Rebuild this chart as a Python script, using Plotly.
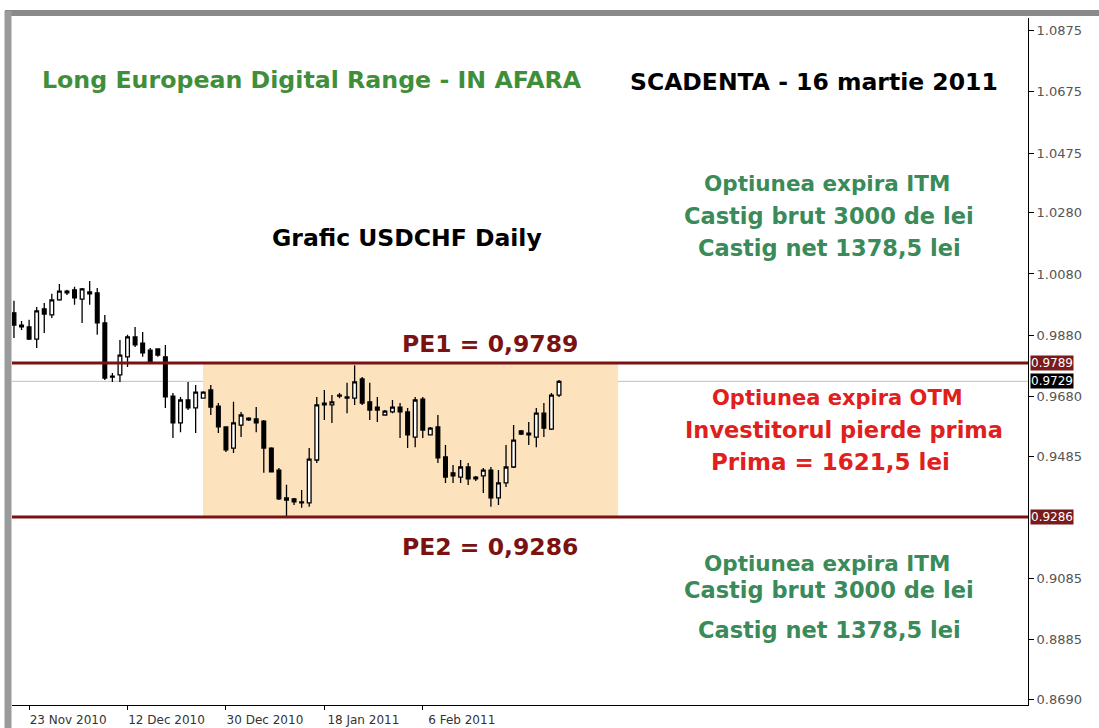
import plotly.graph_objects as go

# ---------------- data (USDCHF daily candles) ----------------
opens = [0.9953, 0.9913, 0.9907, 0.9867, 0.9966, 0.9946, 0.9995, 1.0024, 1.0028, 0.9998,
         1.0021, 1.0018, 0.9920, 0.9743, 0.9750, 0.9809, 0.9874, 0.9854, 0.9831, 0.9835,
         0.9809, 0.9681, 0.9593, 0.9668, 0.9642, 0.9674, 0.9701, 0.9648, 0.9580, 0.9511,
         0.9586, 0.9609, 0.9606, 0.9599, 0.9511, 0.9439, 0.9348, 0.9345, 0.9335, 0.9332,
         0.9472, 0.9652, 0.9652, 0.9681, 0.9674, 0.9674, 0.9737, 0.9662, 0.9645, 0.9619,
         0.9629, 0.9645, 0.9629, 0.9547, 0.9671, 0.9554, 0.9580, 0.9482, 0.9430, 0.9416,
         0.9449, 0.9416, 0.9420, 0.9439, 0.9348, 0.9397, 0.9449, 0.9567, 0.9560, 0.9547,
         0.9625, 0.9573, 0.9684]
highs = [0.9992, 0.9926, 0.9930, 0.9972, 0.9985, 1.0015, 1.0047, 1.0028, 1.0038, 1.0034,
         1.0057, 1.0034, 0.9946, 0.9756, 0.9864, 0.9881, 0.9907, 0.9890, 0.9838, 0.9835,
         0.9848, 0.9691, 0.9678, 0.9727, 0.9717, 0.9697, 0.9717, 0.9658, 0.9580, 0.9662,
         0.9629, 0.9612, 0.9645, 0.9603, 0.9514, 0.9446, 0.9391, 0.9348, 0.9374, 0.9511,
         0.9678, 0.9701, 0.9684, 0.9691, 0.9724, 0.9782, 0.9743, 0.9724, 0.9678, 0.9635,
         0.9668, 0.9658, 0.9642, 0.9678, 0.9678, 0.9580, 0.9619, 0.9521, 0.9456, 0.9472,
         0.9462, 0.9420, 0.9446, 0.9449, 0.9439, 0.9521, 0.9586, 0.9570, 0.9596, 0.9642,
         0.9658, 0.9691, 0.9733]
lows = [0.9871, 0.9897, 0.9864, 0.9838, 0.9887, 0.9936, 0.9992, 1.0011, 0.9979, 0.9920,
        0.9979, 0.9881, 0.9733, 0.9727, 0.9727, 0.9776, 0.9841, 0.9809, 0.9792, 0.9809,
        0.9642, 0.9544, 0.9563, 0.9635, 0.9560, 0.9674, 0.9619, 0.9560, 0.9498, 0.9495,
        0.9547, 0.9599, 0.9563, 0.9430, 0.9433, 0.9341, 0.9286, 0.9325, 0.9316, 0.9319,
        0.9462, 0.9603, 0.9593, 0.9674, 0.9625, 0.9652, 0.9652, 0.9603, 0.9596, 0.9619,
        0.9625, 0.9544, 0.9511, 0.9514, 0.9544, 0.9554, 0.9462, 0.9397, 0.9397, 0.9397,
        0.9390, 0.9403, 0.9364, 0.9319, 0.9325, 0.9384, 0.9446, 0.9554, 0.9521, 0.9514,
        0.9547, 0.9570, 0.9678]
closes = [0.9913, 0.9907, 0.9867, 0.9959, 0.9949, 0.9995, 1.0024, 1.0018, 1.0002, 1.0031,
          1.0015, 0.9920, 0.9740, 0.9746, 0.9815, 0.9874, 0.9848, 0.9822, 0.9792, 0.9815,
          0.9678, 0.9593, 0.9668, 0.9642, 0.9694, 0.9694, 0.9645, 0.9580, 0.9505, 0.9593,
          0.9619, 0.9603, 0.9593, 0.9511, 0.9433, 0.9345, 0.9341, 0.9335, 0.9332, 0.9475,
          0.9652, 0.9658, 0.9662, 0.9684, 0.9678, 0.9727, 0.9658, 0.9635, 0.9635, 0.9632,
          0.9645, 0.9629, 0.9554, 0.9668, 0.9570, 0.9576, 0.9479, 0.9416, 0.9420, 0.9449,
          0.9410, 0.9410, 0.9439, 0.9348, 0.9397, 0.9449, 0.9537, 0.9557, 0.9554, 0.9625,
          0.9576, 0.9684, 0.9729]
bar_index = list(range(len(closes)))

x_tick_index = [2, 15, 28, 41, 54]
x_tick_labels = ["23 Nov 2010", "12 Dec 2010", "30 Dec 2010", "18 Jan 2011", "6 Feb 2011"]

y_tick_values = [1.0875, 1.0675, 1.0475, 1.0280, 1.0080, 0.9880, 0.9680, 0.9485,
                 0.9085, 0.8885, 0.8690]
y_tick_labels = ["1.0875", "1.0675", "1.0475", "1.0280", "1.0080", "0.9880", "0.9680",
                 "0.9485", "0.9085", "0.8885", "0.8690"]

pe1 = 0.9789
pe2 = 0.9286
last_price = 0.9729
range_start_bar = 24.97
range_end_bar = 79.8

# ---------------- layout helpers ----------------
W, H = 1099, 728
L, R, T, B = 12, 1028, 18, 705


def px(x):
    return (x - L) / (R - L)


def py(y):
    return (B - y) / (B - T)


GREEN_T = "#3f8f3a"
GREEN = "#3a8a5a"
RED = "#e0201c"
DRED = "#7a1212"
FONT = "DejaVu Sans, Verdana, sans-serif"

fig = go.Figure()

fig.add_trace(go.Candlestick(
    x=bar_index, open=opens, high=highs, low=lows, close=closes,
    increasing=dict(line=dict(color="black", width=1.3), fillcolor="white"),
    decreasing=dict(line=dict(color="black", width=1.3), fillcolor="black"),
    whiskerwidth=0, showlegend=False, hoverinfo="skip",
))

shapes = []
shapes.append(dict(type="rect", xref="x", yref="y", x0=range_start_bar, x1=range_end_bar,
                   y0=pe2, y1=pe1, fillcolor="#fde3bd", line=dict(width=0), layer="below"))
shapes.append(dict(type="line", xref="paper", yref="y", x0=0, x1=1, y0=last_price, y1=last_price,
                   line=dict(color="#c0c0c0", width=1), layer="below"))
for lvl in (pe1, pe2):
    shapes.append(dict(type="line", xref="paper", yref="y", x0=0, x1=1, y0=lvl, y1=lvl,
                       line=dict(color=DRED, width=3)))
# window frame (grey bars at top and left)
shapes.append(dict(type="line", xref="paper", yref="paper", x0=px(5), x1=px(1099),
                   y0=py(13), y1=py(13), line=dict(color="#8a8a8a", width=6)))
shapes.append(dict(type="line", xref="paper", yref="paper", x0=px(8), x1=px(8),
                   y0=py(11), y1=py(728), line=dict(color="#9a9a9a", width=7)))

annotations = []


def txt(text, x, y, color, size, anchor="center"):
    annotations.append(dict(text=f"<b>{text}</b>", xref="paper", yref="paper",
                            x=px(x), y=py(y), xanchor=anchor, yanchor="middle",
                            showarrow=False, font=dict(family=FONT, size=size, color=color)))


txt("Long European Digital Range - IN AFARA", 40, 80, GREEN_T, 23.7, "left")
txt("SCADENTA - 16 martie 2011", 628, 82, "black", 23.5, "left")
txt("Grafic USDCHF Daily", 407, 238, "black", 23.5)
txt("Optiunea expira ITM", 827, 183, GREEN, 21.5)
txt("Castig brut 3000 de lei", 829, 216, GREEN, 22.5)
txt("Castig net 1378,5 lei", 829, 248, GREEN, 22.5)
txt("PE1 = 0,9789", 490, 344, DRED, 23.5)
txt("Optiunea expira OTM", 837, 398, RED, 21)
txt("Investitorul pierde prima", 844, 430, RED, 22.5)
txt("Prima = 1621,5 lei", 830, 462, RED, 23)
txt("PE2 = 0,9286", 490, 547, DRED, 23.5)
txt("Optiunea expira ITM", 827, 563, GREEN, 21.5)
txt("Castig brut 3000 de lei", 829, 590, GREEN, 22.5)
txt("Castig net 1378,5 lei", 829, 630, GREEN, 22.5)

for lvl, bg in ((pe1, "#7a1a1a"), (last_price, "#000000"), (pe2, "#7a1a1a")):
    annotations.append(dict(text=f"{lvl:.4f}", xref="paper", yref="y", x=px(1030), y=lvl,
                            xanchor="left", yanchor="middle", showarrow=False,
                            bgcolor=bg, borderpad=0,
                            font=dict(family="DejaVu Sans, sans-serif", size=12, color="white")))

fig.update_layout(
    width=W, height=H,
    margin=dict(l=L, r=W - R, t=T, b=H - B, autoexpand=False),
    paper_bgcolor="white", plot_bgcolor="white",
    shapes=shapes, annotations=annotations,
    xaxis=dict(range=[-0.26, 133.95], rangeslider=dict(visible=False), showgrid=False,
               zeroline=False, tickmode="array", tickvals=x_tick_index, ticktext=x_tick_labels,
               ticks="outside", ticklen=4, tickcolor="black", showline=True, linecolor="black",
               linewidth=1, ticklabelshift=39, ticklabelstandoff=0, automargin=False,
               tickfont=dict(family="DejaVu Sans, sans-serif", size=12, color="#333333")),
    yaxis=dict(range=[0.86713, 1.09164], side="right", showgrid=False, zeroline=False,
               tickmode="array", tickvals=y_tick_values, ticktext=y_tick_labels,
               ticks="outside", ticklen=5, tickcolor="black", showline=True, linecolor="black",
               linewidth=1, automargin=False,
               tickfont=dict(family="DejaVu Sans, sans-serif", size=13, color="#555555")),
    showlegend=False,
)

fig.write_html("out.html", config={"displayModeBar": False},
               post_script="document.body.style.margin='0';document.body.style.overflow='hidden';")
